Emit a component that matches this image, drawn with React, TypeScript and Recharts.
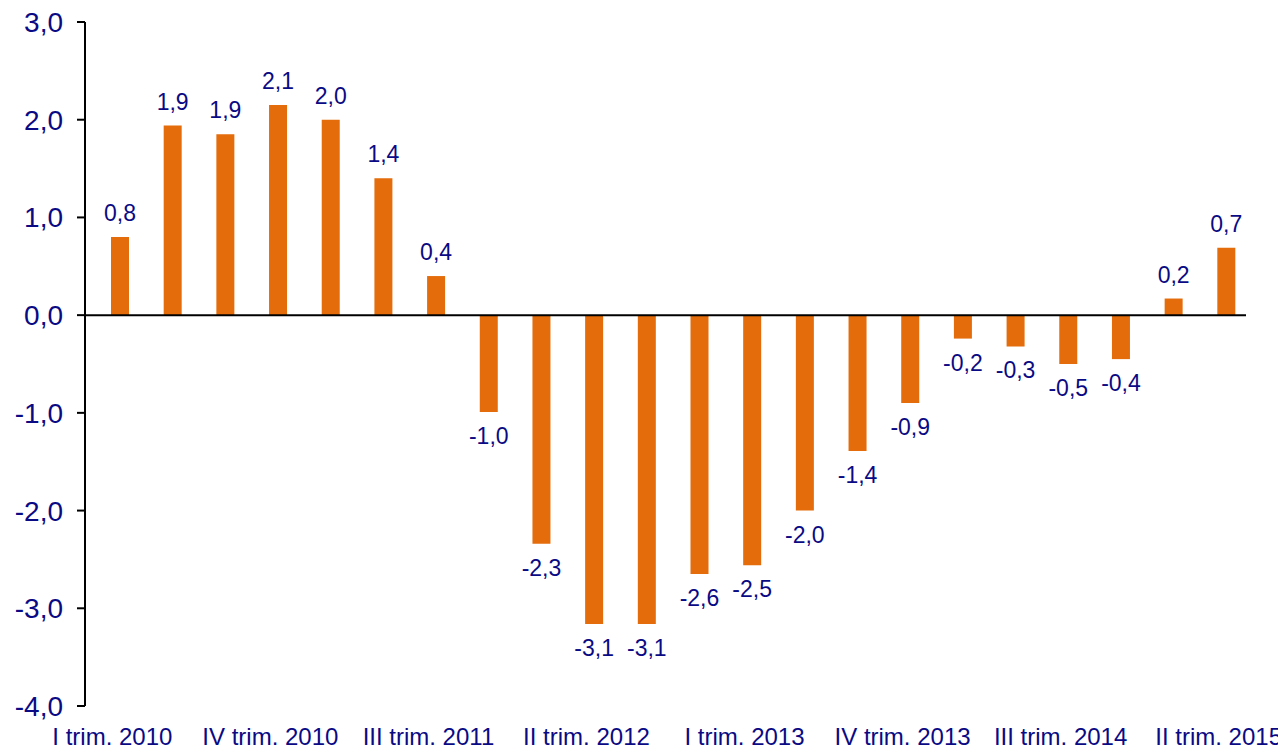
import React from 'react';
import { BarChart, Bar, XAxis, YAxis, ReferenceLine, LabelList } from 'recharts';

const categories = [
  'I trim. 2010', 'II trim. 2010', 'III trim. 2010', 'IV trim. 2010',
  'I trim. 2011', 'II trim. 2011', 'III trim. 2011', 'IV trim. 2011',
  'I trim. 2012', 'II trim. 2012', 'III trim. 2012', 'IV trim. 2012',
  'I trim. 2013', 'II trim. 2013', 'III trim. 2013', 'IV trim. 2013',
  'I trim. 2014', 'II trim. 2014', 'III trim. 2014', 'IV trim. 2014',
  'I trim. 2015', 'II trim. 2015',
];

const values = [
  0.8, 1.94, 1.85, 2.15, 2.0, 1.4, 0.4, -0.99, -2.34, -3.16, -3.16,
  -2.65, -2.56, -2.0, -1.39, -0.9, -0.24, -0.32, -0.5, -0.45, 0.17, 0.69,
];

const labels = [
  '0,8', '1,9', '1,9', '2,1', '2,0', '1,4', '0,4', '-1,0', '-2,3', '-3,1', '-3,1',
  '-2,6', '-2,5', '-2,0', '-1,4', '-0,9', '-0,2', '-0,3', '-0,5', '-0,4', '0,2', '0,7',
];

const yTicks = [-4, -3, -2, -1, 0, 1, 2, 3];

const data = categories.map((c, i) => ({ name: c, value: values[i], label: labels[i] }));

const NAVY = '#0a0a84';
const ORANGE = '#E46C0A';
const FONT = '"Liberation Sans", Arial, sans-serif';

const fmt = (v: number) => v.toFixed(1).replace('.', ',');

const DataLabel = (props: any) => {
  const { x, y, width, height, index } = props;
  const v = values[index];
  const cx = x + width / 2;
  const top = Math.min(y, y + height);
  const bottom = Math.max(y, y + height);
  const ty = v >= 0 ? top - 24 : bottom + 24;
  return (
    <text x={cx} y={ty} textAnchor="middle" dominantBaseline="central"
      fill={NAVY} fontSize={23} fontFamily={FONT}>
      {labels[index]}
    </text>
  );
};

const XTick = (props: any) => {
  const { x, y, payload } = props;
  return (
    <text x={x - 8} y={y + 39} textAnchor="middle" fill={NAVY} fontSize={24} fontFamily={FONT}>
      {payload.value}
    </text>
  );
};

const ZeroLine = (props: any) => {
  const { x1, y1, x2, y2 } = props;
  return <line x1={x1} y1={y1} x2={x2 - 7} y2={y2} stroke="#000" strokeWidth={2} />;
};

export default function App() {
  return (
    <div style={{ marginLeft: -8, marginTop: -8, width: 1286, height: 750, background: '#fff' }}>
      <BarChart width={1286} height={750} data={data}
        margin={{ top: 22, right: 33, bottom: 0, left: 0 }}>
        <XAxis dataKey="name" interval={2} axisLine={false} tickLine={false}
          tickSize={0} tickMargin={0} height={44} padding={{ left: 9, right: 0 }}
          tick={<XTick />} />
        <YAxis domain={[-4, 3]} ticks={yTicks} width={85} tickFormatter={fmt}
          axisLine={{ stroke: '#000', strokeWidth: 2 }}
          tickLine={{ stroke: '#000', strokeWidth: 2 }} tickSize={8} tickMargin={14}
          tick={{ fill: NAVY, fontSize: 28, fontFamily: FONT }} allowDataOverflow />
        <ReferenceLine y={0} stroke="#000" strokeWidth={2} shape={<ZeroLine />} />
        <Bar dataKey="value" fill={ORANGE} barSize={18} isAnimationActive={false}>
          <LabelList dataKey="label" content={<DataLabel />} />
        </Bar>
      </BarChart>
    </div>
  );
}
